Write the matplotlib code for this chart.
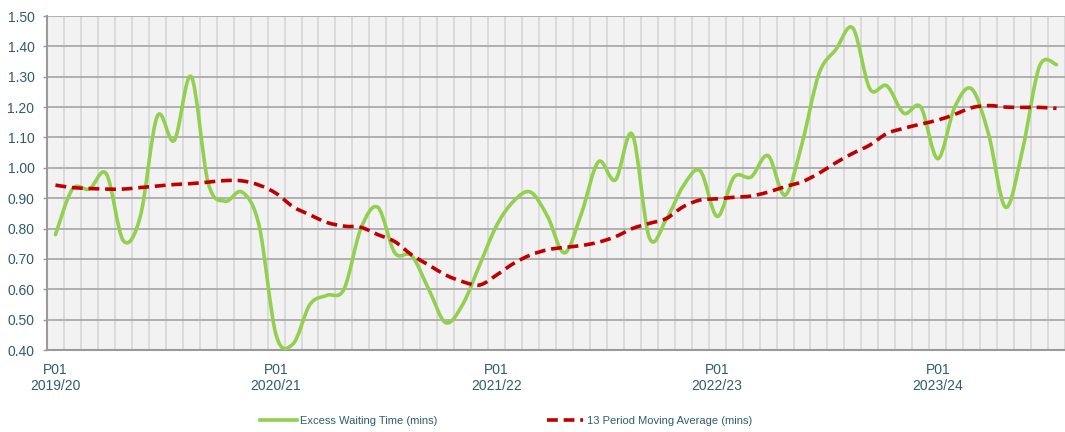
import numpy as np
import matplotlib.pyplot as plt
from matplotlib.path import Path
from matplotlib.patches import PathPatch
from matplotlib.lines import Line2D

plt.rcParams['font.family'] = ['Liberation Sans', 'DejaVu Sans']

# 60 periods: P01 2019/20 .. P08 2023/24
years = ['2019/20', '2020/21', '2021/22', '2022/23', '2023/24']

ewt = [0.78, 0.93, 0.93, 0.98, 0.76, 0.84, 1.17, 1.09, 1.30, 0.95,
       0.89, 0.92, 0.81, 0.45, 0.42, 0.55, 0.58, 0.60, 0.80, 0.87,
       0.72, 0.71, 0.60, 0.49, 0.55, 0.68, 0.81, 0.89, 0.92, 0.84,
       0.72, 0.85, 1.02, 0.96, 1.11, 0.77, 0.83, 0.94, 0.99, 0.84,
       0.97, 0.97, 1.04, 0.91, 1.08, 1.31, 1.39, 1.46, 1.26, 1.27,
       1.18, 1.20, 1.03, 1.20, 1.26, 1.11, 0.87, 1.06, 1.335, 1.34]

mov_avg = [0.943, 0.935, 0.932, 0.930, 0.930, 0.935, 0.940, 0.945, 0.948, 0.953,
           0.958, 0.957, 0.943, 0.916, 0.872, 0.845, 0.820, 0.808, 0.804, 0.780,
           0.757, 0.713, 0.680, 0.647, 0.625, 0.614, 0.647, 0.685, 0.713, 0.730,
           0.738, 0.744, 0.755, 0.773, 0.800, 0.817, 0.833, 0.872, 0.894, 0.898,
           0.903, 0.907, 0.920, 0.938, 0.954, 0.982, 1.017, 1.048, 1.075, 1.113,
           1.130, 1.144, 1.157, 1.176, 1.198, 1.205, 1.200, 1.199, 1.199, 1.196]

text_col = '#2E5C70'
green = '#92D050'
red = '#C00000'


def smooth_path(y):
    # Excel-style smoothed line: cubic Bezier segments through each point
    x = np.arange(len(y), dtype=float)
    y = np.asarray(y, dtype=float)
    px = np.concatenate([[x[0]], x, [x[-1]]])
    py = np.concatenate([[y[0]], y, [y[-1]]])
    verts = [(x[0], y[0])]
    codes = [Path.MOVETO]
    for i in range(len(x) - 1):
        j = i + 1
        c1 = (px[j] + (px[j + 1] - px[j - 1]) / 6, py[j] + (py[j + 1] - py[j - 1]) / 6)
        c2 = (px[j + 1] - (px[j + 2] - px[j]) / 6, py[j + 1] - (py[j + 2] - py[j]) / 6)
        verts += [c1, c2, (x[i + 1], y[i + 1])]
        codes += [Path.CURVE4] * 3
    return Path(verts, codes)


fig = plt.figure(figsize=(10.65, 4.32), dpi=100)
ax = fig.add_axes([47 / 1065, 82 / 432, 1 - 47 / 1065, 334 / 432])
ax.set_facecolor('#F2F2F2')

n = len(ewt)
ax.set_xlim(-0.5, n - 0.5)
ax.set_ylim(0.4, 1.5)

ax.add_patch(PathPatch(smooth_path(ewt), fill=False, edgecolor=green, lw=2.6,
                       capstyle='round', joinstyle='round', zorder=3))
ax.add_patch(PathPatch(smooth_path(mov_avg), fill=False, edgecolor=red, lw=2.6,
                       linestyle=(0, (3, 1.6)), capstyle='butt', zorder=4))

# axes / grid
ax.set_yticks(np.arange(0.4, 1.51, 0.1))
ax.set_yticklabels([f'{v:.2f}' for v in np.arange(0.4, 1.51, 0.1)])
ax.set_xticks(np.arange(0, n, 13))
ax.set_xticklabels([f'P01\n{y}' for y in years])
ax.set_xticks(np.arange(-0.5, n, 1), minor=True)
ax.grid(axis='y', which='major', color='#ABABAB', lw=1.3, zorder=1)
ax.grid(axis='x', which='minor', color='#D9D9D9', lw=1.3, zorder=0)
ax.set_axisbelow(True)
ax.tick_params(axis='y', length=3, width=1, color='#9A9A9A', pad=6,
               labelsize=10, labelcolor=text_col)
ax.tick_params(axis='x', which='both', length=0, pad=9,
               labelsize=10, labelcolor=text_col)
for s in ['top', 'right']:
    ax.spines[s].set_visible(False)
for s in ['left', 'bottom']:
    ax.spines[s].set_color('#9A9A9A')
    ax.spines[s].set_linewidth(1.5)

handles = [Line2D([], [], color=green, lw=2.6),
           Line2D([], [], color=red, lw=2.6, linestyle=(0, (3, 1.6)))]
fig.legend(handles, ['Excess Waiting Time (mins)', '13 Period Moving Average (mins)'],
           loc='center', bbox_to_anchor=(506 / 1065, 1 - 421 / 432), ncol=2,
           frameon=False, fontsize=8, handlelength=3.3, handletextpad=0.3,
           columnspacing=9.8, labelcolor=text_col)

fig.savefig('out.png', dpi=100)
